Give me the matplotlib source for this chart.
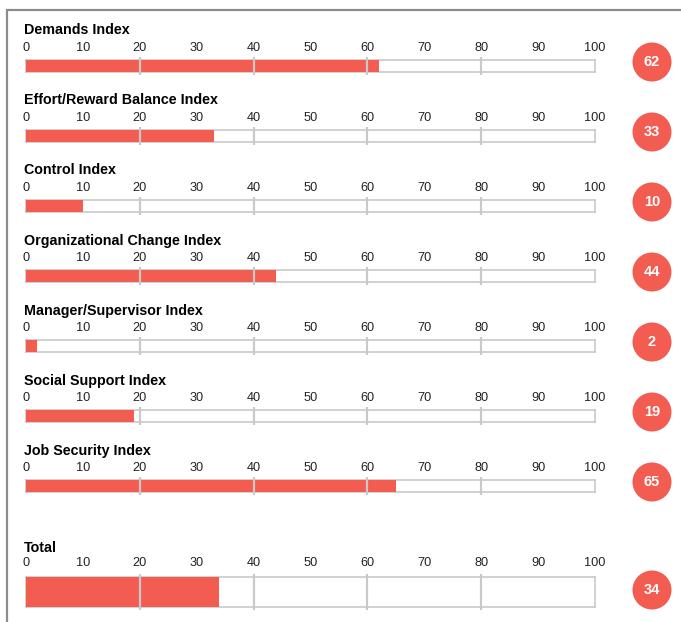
import matplotlib
matplotlib.use("Agg")
import matplotlib.pyplot as plt
from matplotlib.patches import Circle

# --- data ---
index_names = [
    "Demands Index",
    "Effort/Reward Balance Index",
    "Control Index",
    "Organizational Change Index",
    "Manager/Supervisor Index",
    "Social Support Index",
    "Job Security Index",
]
index_scores = [62, 33, 10, 44, 2, 19, 65]
total_name = "Total"
total_score = 34
tick_values = list(range(0, 101, 10))
grid_values = [20, 40, 60, 80]

RED = "#f25c51"
GRID = "#c9c9c9"
FRAME = "#8c8c8c"
W, H = 681, 622

plt.rcParams["font.family"] = ["Liberation Sans", "DejaVu Sans"]

fig = plt.figure(figsize=(W / 100, H / 100), dpi=100)


def px_axes(left, top, width, height):
    return fig.add_axes([left / W, 1 - (top + height) / H, width / W, height / H])


def draw_panel(name, score, title_y, bar_top, bar_h, circle_y, tick_pad):
    fig.text(24 / W, 1 - title_y / H, name, fontsize=10.3, fontweight="bold",
             va="center", ha="left")
    ax = px_axes(26, bar_top, 569, bar_h)
    ax.set_xlim(0, 100)
    ax.set_ylim(0, 1)
    ax.barh(0.5, score, height=1.0, color=RED, zorder=3)
    ext = 3.0 / bar_h
    ax.vlines(grid_values, -ext, 1 + ext, color=GRID, lw=1.6, clip_on=False, zorder=4)
    for s in ax.spines.values():
        s.set_color(GRID)
        s.set_linewidth(1.2)
    ax.set_yticks([])
    ax.set_xticks(tick_values)
    ax.xaxis.tick_top()
    ax.tick_params(axis="x", length=0, pad=tick_pad, labelsize=9.2, colors="#222222")
    # score badge
    ov.add_patch(Circle((652, circle_y), 19.5, color=RED, lw=0))
    ov.text(652, circle_y + 0.5, str(score), color="white", fontsize=10.5,
            fontweight="bold", ha="center", va="center")


# overlay in pixel coordinates for frame and badges
ov = fig.add_axes([0, 0, 1, 1], zorder=5)
ov.set_xlim(0, W)
ov.set_ylim(H, 0)
ov.axis("off")
ov.patch.set_alpha(0)
ov.plot([7, 7, W], [H, 10, 10], color=FRAME, lw=1.6, solid_joinstyle="miter")

for i, (name, score) in enumerate(zip(index_names, index_scores)):
    off = 70 * i
    draw_panel(name, score, 30.5 + off, 60 + off, 11.5, 62 + off, 4.5)

draw_panel(total_name, total_score, 548.5, 577, 29.5, 590, 5.5)

fig.savefig("out.png", dpi=100)
